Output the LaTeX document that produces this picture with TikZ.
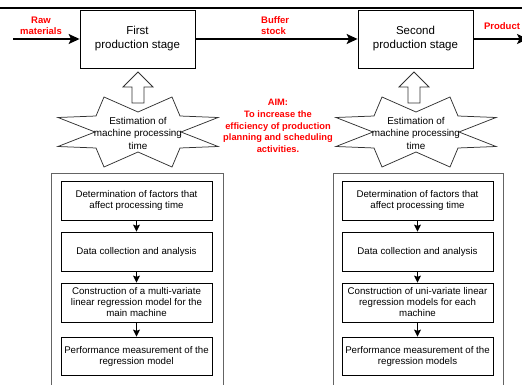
\documentclass[tikz,border=0pt]{standalone}
\usepackage{fontspec}
\setmainfont{Liberation Sans}
\usetikzlibrary{arrows.meta,calc}
\definecolor{lblred}{RGB}{255,0,0}
\definecolor{framegray}{RGB}{100,100,100}
\definecolor{stargray}{RGB}{50,50,50}
\newcommand\drawstar[2]{%
  \draw[starline,shift={(#1,#2)}]
    (43,0) -- (80,-14.5) -- (42,-16) -- (34,-35) -- (0,-20) -- (-34,-35) -- (-42,-16) -- (-80,-14.5)
    -- (-43,0) -- (-80,14.5) -- (-42,16) -- (-34,35) -- (0,20) -- (34,35) -- (42,16) -- (80,14.5) -- cycle;}
\newcommand\drawhollow[1]{%
  \draw[starline,shift={(#1,0)}]
    (0,72) -- (15,87) -- (6,87) -- (6,103) -- (-6,103) -- (-6,87) -- (-15,87) -- cycle;}
\begin{document}
\begin{tikzpicture}[x=1pt,y=-1pt,
  stage/.style={draw=black,line width=0.8pt,minimum width=115pt,minimum height=58pt,inner sep=0pt,align=center,font=\fontsize{11.5}{14}\selectfont},
  stepbox/.style={draw=black,line width=0.8pt,minimum width=151pt,minimum height=#1,inner sep=0pt,align=center,font=\fontsize{9.7}{11}\selectfont},
  redlbl/.style={text=lblred,font=\fontsize{9.5}{11}\selectfont\bfseries,inner sep=0pt},
  aimlbl/.style={text=lblred,font=\fontsize{9.3}{11.7}\selectfont\bfseries,inner sep=0pt,align=center},
  startext/.style={font=\fontsize{9.9}{12.5}\selectfont,align=center,inner sep=0pt},
  starline/.style={draw=stargray,line width=0.75pt},
  mainarrow/.style={line width=1.5pt,-{Stealth[length=11pt,width=10pt,inset=2.5pt]}},
  smallarrow/.style={line width=0.9pt,-{Stealth[length=7pt,width=7pt,inset=1.2pt]}},
  frame/.style={draw=framegray,line width=0.9pt}
]
\useasboundingbox (0,0) rectangle (522,385);
\clip (0,0) rectangle (522,385);

% top rule
\draw[line width=2pt] (0,8) -- (522,8);

% stages
\node[stage] (st1) at (137.5,39) {First\\production stage};
\node[stage] (st2) at (415.5,39) {Second\\production stage};
\coordinate (rawin) at (13,39);
\coordinate (prodout) at (528,39);
\draw[mainarrow] (rawin) -- (st1);
\draw[mainarrow] (st1) -- (st2);
\draw[mainarrow] (st2) -- (prodout);

% labels
\node[redlbl,align=center] (raw) at (41,25.5) {Raw\\materials};
\node[redlbl,align=left,anchor=west] (buf) at (261,26) {Buffer\\stock};
\node[redlbl] (prod) at (502,26) {Product};

% stars and hollow arrows
\drawhollow{138}
\drawhollow{414}
\drawstar{138}{132}
\drawstar{416}{132}
\node[startext] (est1) at (138,133) {Estimation of\\machine processing\\time};
\node[startext] (est2) at (416,133) {Estimation of\\machine processing\\time};

% aim
\node[aimlbl] (aim) at (278,126) {AIM:\\To increase the\\efficiency of production\\planning and scheduling\\activities.};

% frames
\draw[frame] (51,395) -- (51,173) -- (223,173) -- (223,395);
\draw[frame] (333,395) -- (333,173) -- (503,173) -- (503,395);

% left steps
\node[stepbox=39pt] (la) at (136.5,200.5) {Determination of factors that\\affect processing time};
\node[stepbox=39pt] (lb) at (136.5,251.5) {Data collection and analysis};
\node[stepbox=39pt] (lc) at (136.5,302.5) {Construction of a multi-variate\\linear regression model for the\\main machine};
\node[stepbox=38pt] (ld) at (136.5,356) {Performance measurement of the\\regression model};
\draw[smallarrow] (la) -- (lb);
\draw[smallarrow] (lb) -- (lc);
\draw[smallarrow] (lc) -- (ld);

% right steps
\node[stepbox=39pt] (ra) at (417.5,200.5) {Determination of factors that\\affect processing time};
\node[stepbox=39pt] (rb) at (417.5,251.5) {Data collection and analysis};
\node[stepbox=39pt] (rc) at (417.5,302.5) {Construction of uni-variate linear\\regression models for each\\machine};
\node[stepbox=38pt] (rd) at (417.5,356) {Performance measurement of the\\regression models};
\draw[smallarrow] (ra) -- (rb);
\draw[smallarrow] (rb) -- (rc);
\draw[smallarrow] (rc) -- (rd);
\end{tikzpicture}
\end{document}
